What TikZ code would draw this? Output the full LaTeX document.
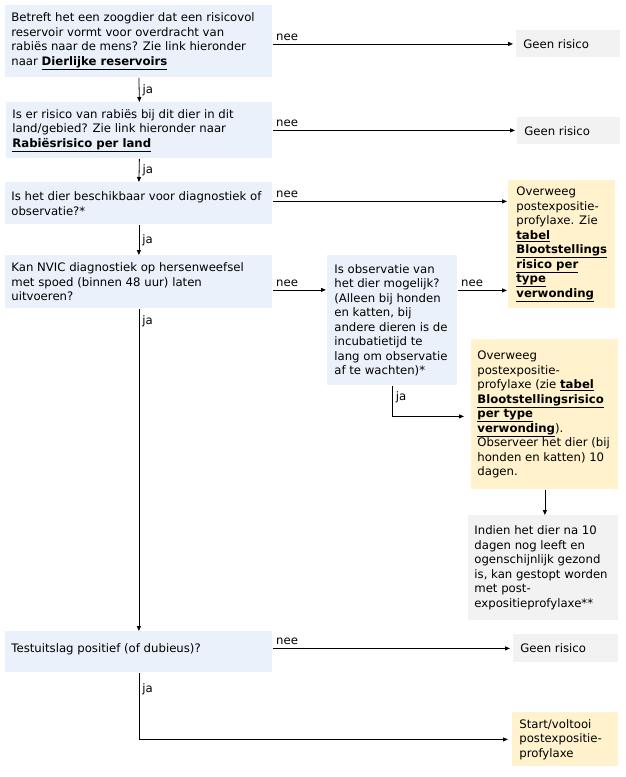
\documentclass[tikz,border=0pt]{standalone}
\usepackage{fontspec}
\setmainfont{DejaVu Sans}
\usetikzlibrary{arrows.meta,calc,positioning}
\definecolor{qblue}{RGB}{234,241,250}
\definecolor{endgray}{RGB}{242,242,242}
\definecolor{advorange}{RGB}{255,242,204}
\newcommand{\lnk}[1]{\textbf{\underline{#1}}}
\tikzset{
  flowfig/.style={x=1pt,y=-1pt,>={Triangle[length=5pt,width=4pt]},
    every node/.style={font=\fontsize{11.7}{14.5}\selectfont},
    line width=0.8pt},
  qnode/.style={fill=qblue,anchor=north west,align=flush left,inner xsep=6pt,inner ysep=0pt},
  endnode/.style={fill=endgray,anchor=north west,align=flush left,inner xsep=7pt,inner ysep=0pt},
  advnode/.style={fill=advorange,anchor=north west,align=flush left,inner xsep=7pt,inner ysep=0pt},
  lbl/.style={inner sep=3pt},
}
\begin{document}
\begin{tikzpicture}[flowfig]
    \useasboundingbox (0,0) rectangle (625,777);

    % vragen
    \node[qnode,text width=255pt,minimum height=72pt] (q1) at (5,5)
      {Betreft het een zoogdier dat een risicovol\\ reservoir vormt voor overdracht van\\
       rabiës naar de mens? Zie link hieronder\\ naar \lnk{Dierlijke reservoirs}};
    \node[qnode,text width=254pt,minimum height=56pt] (q2) at (6,102)
      {Is er risico van rabiës bij dit dier in dit\\ land/gebied? Zie link hieronder naar\\
       \lnk{Rabiësrisico per land}};
    \node[qnode,text width=255pt,minimum height=42pt] (q3) at (5,182)
      {Is het dier beschikbaar voor diagnostiek of\\ observatie?*};
    \node[qnode,text width=255pt,minimum height=53pt] (q4) at (5,255)
      {Kan NVIC diagnostiek op hersenweefsel\\ met spoed (binnen 48 uur) laten\\ uitvoeren?};
    \node[qnode,inner xsep=7pt,text width=116pt,minimum height=130pt] (q5) at (327,255)
      {Is observatie van\\ het dier mogelijk?\\ (Alleen bij honden\\ en katten, bij\\
       andere dieren is de\\ incubatietijd te\\ lang om observatie\\ af te wachten)*};
    \node[qnode,text width=255pt,minimum height=41pt] (q6) at (5,631)
      {Testuitslag positief (of dubieus)?\\[-7.5pt]\mbox{}};

    % uitkomsten
    \node[endnode,text width=90pt,minimum height=27pt] (g1) at (516,30) {Geen risico};
    \node[endnode,text width=89pt,minimum height=27pt] (g2) at (517,117) {Geen risico};
    \node[endnode,text width=91pt,minimum height=28pt] (g4) at (513,634) {Geen risico};
    \node[advnode,inner xsep=8pt,text width=91pt,minimum height=128pt] (o1) at (508,180)
      {Overweeg\\ postexpositie-\\ profylaxe. Zie\\ \lnk{tabel}\\ \lnk{Blootstellings}\\
       \lnk{risico per}\\ \lnk{type}\\ \lnk{verwonding}};
    \node[advnode,inner xsep=6pt,text width=135pt,minimum height=150pt] (o2) at (471,339)
      {Overweeg\\ postexpositie-\\ profylaxe (zie \lnk{tabel}\\ \lnk{Blootstellingsrisico}\\
       \lnk{per type}\\ \lnk{verwonding}).\\ Observeer het dier (bij\\ honden en katten) 10\\ dagen.};
    \node[endnode,inner xsep=6pt,text width=138pt,minimum height=105pt] (g3) at (468,515)
      {Indien het dier na 10\\ dagen nog leeft en\\ ogenschijnlijk gezond\\ is, kan gestopt worden\\
       met post-\\ expositieprofylaxe**};
    \node[advnode,text width=92pt,minimum height=54pt] (o3) at (512,712)
      {Start/voltooi\\ postexpositie-\\ profylaxe};

    % verbindingen
    \draw[->,shorten >=3pt] (q1.east |- g1.west) -- node[pos=0,above right,lbl] {nee} (g1.west);
    \draw[->] (q1.south) -- node[midway,right,lbl] {ja} (q2.north);
    \draw[->,shorten >=2pt] (q2.east) -- node[pos=0,above right,lbl] {nee} (q2.east -| g2.west);
    \draw[->] (q2.south) -- node[midway,right,lbl] {ja} (q3.north);
    \draw[->,shorten >=1pt] ([yshift=2pt]q3.east) -- node[pos=0,above right,lbl] {nee}
      ([yshift=2pt]q3.east -| o1.west);
    \draw[->] (q3.south) -- node[midway,right,lbl] {ja} (q4.north);
    \draw[->,shorten >=1pt] ([yshift=-8pt]q4.east) -- node[pos=0,above right,lbl] {nee}
      ([yshift=-8pt]q4.east -| q5.west);
    \draw[->,shorten >=1pt] ([yshift=30pt]q5.east) -- node[pos=0,above right,lbl] {nee}
      ([yshift=30pt]q5.east -| o1.west);
    \draw[->,shorten >=7pt] (q5.south) |- node[pos=0.19,right,lbl] {ja} ([yshift=-2pt]o2.west);
    \draw[->] (o2.south) -- (o2.south |- g3.north);
    \draw[->] (q4.south) -- node[pos=0.04,right,lbl] {ja} (q6.north);
    \draw[->,shorten >=3pt] (q6.east |- g4.west) -- node[pos=0,above right,lbl] {nee} (g4.west);
    \draw[->,shorten >=4pt] (q6.south) |- node[pos=0.12,right,lbl] {ja} (o3.west);
\end{tikzpicture}
\end{document}
